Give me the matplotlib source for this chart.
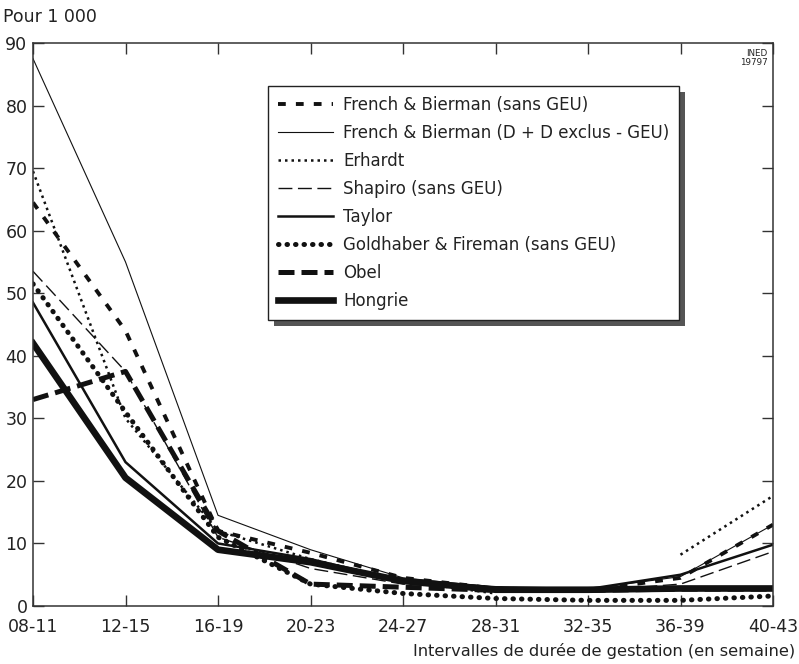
import numpy as np
import matplotlib
matplotlib.use('Agg')
import matplotlib.pyplot as plt
from matplotlib.patches import Rectangle

plt.rcParams['font.family'] = ['DejaVu Sans']

# gestation intervals (weeks)
intervals = ['08-11', '12-15', '16-19', '20-23', '24-27', '28-31', '32-35', '36-39', '40-43']

# rates per 1 000
french_sans_geu = [64.5, 44, 12, 8.5, 4.5, 2.8, 2.5, 4.5, 13]
french_dd = [87.5, 55, 14.5, 9, 4.5, 3, 2.7, 4.7, 13]
erhardt = [69.5, 30, 12, 7.5, 4, 2, np.nan, 8.2, 17.6]
shapiro = [53.5, 37.5, 11, 6, 3.5, 2.6, 2.4, 3.5, 8.7]
taylor = [48.5, 23, 10, 7.5, 4, 3, 2.7, 5, 9.8]
goldhaber = [51.5, 31, 11, 3.5, 2, 1.2, 0.9, 0.9, 1.6]
obel = [33, 37.5, 12, 3.5, 3, 2.5, 2.5, 2.7, 2.7]
hongrie = [42, 20.5, 9, 7, 4, 2.6, 2.6, 2.8, 2.8]

x = np.arange(len(intervals))
ink = '#111111'
txt = '#222222'

fig = plt.figure(figsize=(7.99, 6.64), dpi=100)
ax = fig.add_axes([33/799, 58/664, 740/799, 563/664])

ax.plot(x, french_sans_geu, color=ink, lw=2.8, ls=(0, (2, 2.6)), label='French & Bierman (sans GEU)')
ax.plot(x, french_dd, color=ink, lw=0.8, label='French & Bierman (D + D exclus - GEU)')
ax.plot(x, erhardt, color=ink, lw=1.8, ls=(0, (1, 1.6)), label='Erhardt')
ax.plot(x, shapiro, color=ink, lw=1.0, ls=(0, (10, 4)), label='Shapiro (sans GEU)')
ax.plot(x, taylor, color=ink, lw=1.8, label='Taylor')
ax.plot(x, goldhaber, color=ink, lw=3.6, ls=(0, (0.1, 1.6)), dash_capstyle='round',
        label='Goldhaber & Fireman (sans GEU)')
ax.plot(x, obel, color=ink, lw=3.6, ls=(0, (3.2, 1.4)), label='Obel')
ax.plot(x, hongrie, color=ink, lw=4.8, label='Hongrie')

ax.set_xlim(0, len(intervals) - 1)
ax.set_ylim(0, 90)
ax.set_xticks(x)
ax.set_xticklabels(intervals)
ax.set_yticks(np.arange(0, 91, 10))
ax.tick_params(direction='in', length=8, width=1, color='#333333', labelsize=12.5,
               top=True, right=True, labelcolor=txt)
ax.tick_params(axis='x', pad=9)
ax.tick_params(axis='y', pad=4)
for s in ax.spines.values():
    s.set_color('#333333')
    s.set_linewidth(1.1)

fig.text(3/799, 1 - 17/664, 'Pour 1 000', ha='left', va='center', fontsize=12.5, color=txt)
fig.text(795/799, 1 - 651/664, 'Intervalles de durée de gestation (en semaine)',
         ha='right', va='center', fontsize=11.7, color=txt)
ax.text(0.993, 0.99, 'INED\n19797', transform=ax.transAxes, ha='right', va='top',
        fontsize=6.3, linespacing=1.05, color=txt)

leg = ax.legend(loc='upper left', bbox_to_anchor=(268/799, 1 - 86/664),
                bbox_transform=fig.transFigure, fontsize=12, handlelength=3.3,
                handletextpad=0.6, labelspacing=0.6, borderpad=0.6, borderaxespad=0,
                fancybox=False, framealpha=1, edgecolor='#222222')
leg.get_frame().set_linewidth(1)
for t in leg.get_texts():
    t.set_color(txt)

# drop shadow behind the legend box
fig.canvas.draw()
bb = leg.get_window_extent().transformed(fig.transFigure.inverted())
sh = Rectangle((bb.x0 + 6/799, bb.y0 - 6/664), bb.width, bb.height, transform=fig.transFigure,
               facecolor='#555555', edgecolor='none', zorder=leg.get_zorder() - 0.1)
ax.add_artist(sh)
sh.set_clip_on(False)

fig.savefig('out.png', dpi=100)
